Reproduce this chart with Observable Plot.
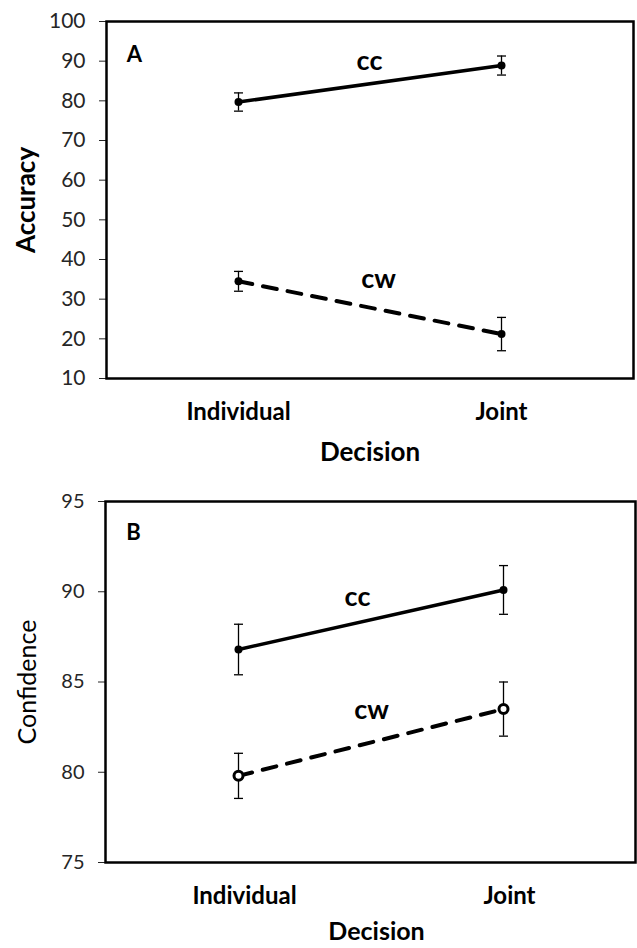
<!DOCTYPE html>
<html><head><meta charset="utf-8">
<script src="https://cdn.jsdelivr.net/npm/d3@7"></script>
<script src="https://cdn.jsdelivr.net/npm/@observablehq/plot@0.6"></script>
<style>body{margin:0;background:#fff;} #chart svg{display:block;}</style>
</head><body><div id="chart"></div>
<script>
const decisions = ["Individual", "Joint"];
const accuracyCC = [79.7, 88.9];
const accuracyCCErr = [2.3, 2.4];
const accuracyCW = [34.5, 21.2];
const accuracyCWErr = [2.5, 4.2];
const confidenceCC = [86.8, 90.1];
const confidenceCCErr = [1.4, 1.35];
const confidenceCW = [79.8, 83.5];
const confidenceCWErr = [1.25, 1.5];
const accuracyTicks = [10, 20, 30, 40, 50, 60, 70, 80, 90, 100];
const confidenceTicks = [75, 80, 85, 90, 95];

// horizontal cap symbol for error bars (half-width = r)
const capSymbol = {
  draw(context, size) {
    const w = Math.sqrt(size / Math.PI);
    context.moveTo(-w, 0);
    context.lineTo(w, 0);
  }
};

function rows(cond, vals, errs) {
  return decisions.map((d, i) => ({decision: d, cond, value: vals[i], lo: vals[i] - errs[i], hi: vals[i] + errs[i]}));
}

function panel(o) {
  const cc = rows("cc", o.cc, o.ccErr);
  const cw = rows("cw", o.cw, o.cwErr);
  const all = cc.concat(cw);
  const joint = d => d.decision === "Joint";
  return Plot.plot({
    width: 637, height: o.height,
    marginLeft: o.ml, marginRight: o.mr, marginTop: o.mt, marginBottom: o.mb,
    style: {fontFamily: "Lato, sans-serif", background: "white", color: "#000"},
    x: {type: "point", domain: decisions, padding: 0.5},
    y: {domain: o.domain},
    marks: [
      Plot.axisY({ticks: o.ticks, tickSize: 7, tickPadding: 14, fontSize: o.tickSize, label: null, color: "#262626"}),
      Plot.axisX({tickSize: 0, tickPadding: 24, fontSize: 24, fontWeight: "bold", label: null, dx: o.xdx}),
      Plot.frame({stroke: "#000", strokeWidth: 2.5}),
      Plot.line(cc, {x: "decision", y: "value", stroke: "#000", strokeWidth: 3.5}),
      Plot.line(cw, {x: "decision", y: "value", stroke: "#000", strokeWidth: 4, strokeDasharray: "14,11"}),
      Plot.ruleX(all, {x: "decision", y1: "lo", y2: "hi", stroke: "#000", strokeWidth: 1.3}),
      Plot.dot(all, {x: "decision", y: "lo", symbol: capSymbol, r: 4.5, fill: "none", stroke: "#000", strokeWidth: 1.3}),
      Plot.dot(all, {x: "decision", y: "hi", symbol: capSymbol, r: 4.5, fill: "none", stroke: "#000", strokeWidth: 1.3}),
      Plot.dot(cc, {x: "decision", y: "value", r: 4, fill: "#000"}),
      o.openCW
        ? Plot.dot(cw, {x: "decision", y: "value", r: 4.5, fill: "white", stroke: "#000", strokeWidth: 3})
        : Plot.dot(cw, {x: "decision", y: "value", r: 4, fill: "#000"}),
      Plot.text(cc.filter(joint), {x: "decision", y: "value", text: d => d.cond, dx: o.ccLabel[0], dy: o.ccLabel[1], fontSize: 27, fontWeight: "bold"}),
      Plot.text(cw.filter(joint), {x: "decision", y: "value", text: d => d.cond, dx: o.cwLabel[0], dy: o.cwLabel[1], fontSize: 27, fontWeight: "bold"}),
      Plot.text([o.letter], {text: d => d, frameAnchor: "top-left", lineAnchor: "middle", textAnchor: "middle", dx: 28, dy: o.letterDy, fontSize: 22, fontWeight: "bold"}),
      Plot.text([o.ylabel], {text: d => d, frameAnchor: "left", textAnchor: "middle", rotate: -90, dx: o.yldx, fontSize: o.ylSize, fontWeight: o.ylWeight}),
      Plot.text(["Decision"], {text: d => d, frameAnchor: "bottom", lineAnchor: "middle", textAnchor: "middle", dx: o.xdx, dy: o.xldy, fontSize: o.xlSize, fontWeight: "bold"})
    ]
  });
}

const chart = document.getElementById("chart");
chart.appendChild(panel({
  height: 470, ml: 106, mr: 4, mt: 21, mb: 92,
  domain: [10, 100], ticks: accuracyTicks, tickSize: 21,
  cc: accuracyCC, ccErr: accuracyCCErr, cw: accuracyCW, cwErr: accuracyCWErr,
  openCW: false, letter: "A", letterDy: 33, ylabel: "Accuracy", yldx: -80, ylSize: 26, ylWeight: "bold",
  ccLabel: [-132, -4], cwLabel: [-123, -55], xdx: 0, xldy: 74, xlSize: 26
}));
chart.appendChild(panel({
  height: 478, ml: 105, mr: 2, mt: 31, mb: 86,
  domain: [75, 95], ticks: confidenceTicks, tickSize: 20,
  cc: confidenceCC, ccErr: confidenceCCErr, cw: confidenceCW, cwErr: confidenceCWErr,
  openCW: true, letter: "B", letterDy: 31, ylabel: "Confidence", yldx: -78, ylSize: 25, ylWeight: "normal",
  ccLabel: [-146, 7], cwLabel: [-132, 1], xdx: 6, xldy: 69, xlSize: 25
}));
</script>
</body></html>
